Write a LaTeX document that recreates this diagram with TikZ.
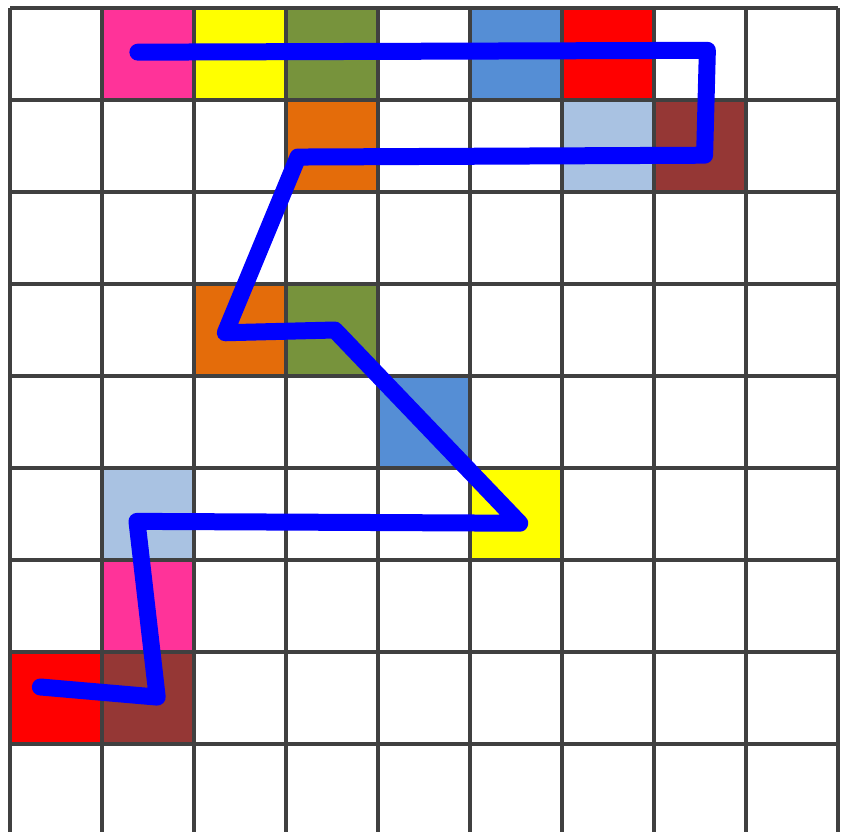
\documentclass[tikz,border=0pt]{standalone}
\usepackage{xcolor}
\usepackage{tikz}

\definecolor{cpink}{HTML}{FF3399}
\definecolor{cyellow}{HTML}{FFFF00}
\definecolor{colive}{HTML}{77933C}
\definecolor{corange}{HTML}{E46C0A}
\definecolor{csteel}{HTML}{558ED5}
\definecolor{cred}{HTML}{FF0000}
\definecolor{clight}{HTML}{A9C2E2}
\definecolor{cbrown}{HTML}{953735}
\definecolor{cpath}{HTML}{0000FF}

\begin{document}
\begin{tikzpicture}[
  gridline/.style={draw=black!75, line width=0.035cm},
  route/.style={draw=cpath, line width=0.17cm, line cap=round, line join=round}
]
\useasboundingbox[fill=white] (0,0) rectangle (8.41,-8.31);
\clip (0,0) rectangle (8.41,-8.31);

\begin{scope}[shift={(0.10cm,-0.08cm)}, x=0.92cm, y=-0.92cm]
  % coloured cells: column/row/colour
  \foreach \i/\j/\c in {1/0/cpink, 2/0/cyellow, 3/0/colive, 5/0/csteel, 6/0/cred,
                        3/1/corange, 6/1/clight, 7/1/cbrown,
                        2/3/corange, 3/3/colive,
                        4/4/csteel,
                        1/5/clight, 5/5/cyellow,
                        1/6/cpink,
                        0/7/cred, 1/7/cbrown}
    \fill[\c] (\i,\j) rectangle ++(1,1);

  % grid
  \foreach \i in {0,...,9}
    \draw[gridline] (\i,0) -- (\i,9.2);
  \foreach \j in {0,...,8}
    \draw[gridline] (0,\j) -- (9,\j);

  % route
  \coordinate (s0) at (1.39,0.48);
  \coordinate (s1) at (7.58,0.46);
  \coordinate (s2) at (7.55,1.60);
  \coordinate (s3) at (3.13,1.62);
  \coordinate (s4) at (2.34,3.53);
  \coordinate (s5) at (3.53,3.50);
  \coordinate (s6) at (5.54,5.60);
  \coordinate (s7) at (1.38,5.58);
  \coordinate (s8) at (1.60,7.49);
  \coordinate (s9) at (0.33,7.38);
  \draw[route] (s0) -- (s1) -- (s2) -- (s3) -- (s4) -- (s5) -- (s6) -- (s7) -- (s8) -- (s9);
\end{scope}
\end{tikzpicture}
\end{document}
